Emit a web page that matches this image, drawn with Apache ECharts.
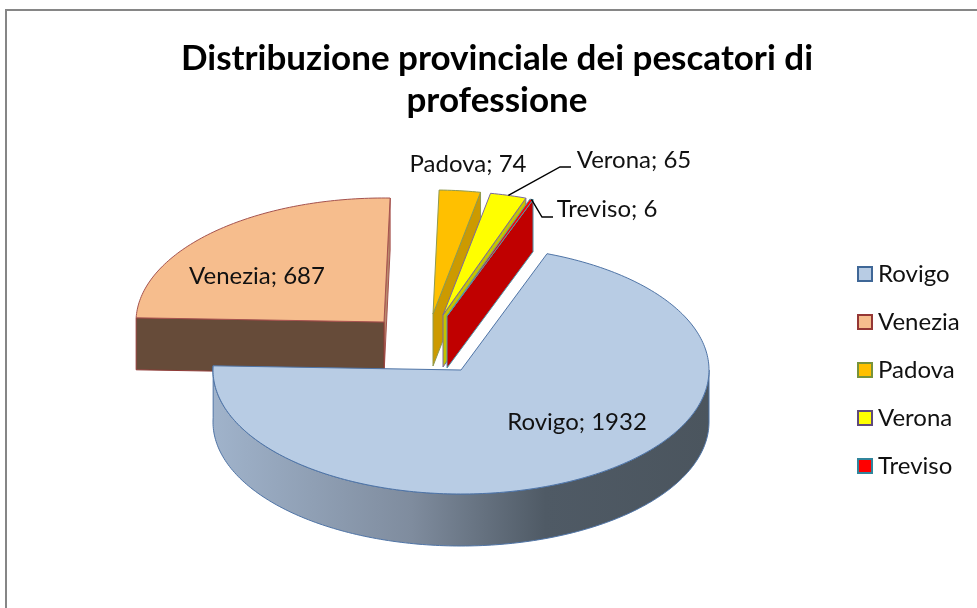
<!DOCTYPE html>
<html><head><meta charset="utf-8">
<style>html,body{margin:0;padding:0;background:#fff}#c{width:977px;height:608px}</style>
<script src="https://cdn.jsdelivr.net/npm/echarts@6/dist/echarts.min.js"></script>
</head><body><div id="c"></div>
<script>
const titleLines = ['Distribuzione provinciale dei pescatori di', 'professione'];
const categories = ['Rovigo', 'Venezia', 'Padova', 'Verona', 'Treviso'];
const values = [1932, 687, 74, 65, 6];

const FONT = 'Lato';
const START_DEG = 20.3, RX = 248, RY = 124, DEPTH = 52;
const centres = {Rovigo:[461,370], Venezia:[384,322], Padova:[433,314], Verona:[443,315], Treviso:[447,316]};
const topFill = {Rovigo:'#b8cce4', Venezia:'#f6bd8d', Padova:'#ffc000', Verona:'#ffff00', Treviso:'#ff0000'};
const wallFill = {Rovigo:'#4f5a64', Venezia:'#664b39', Padova:'#cc9a00', Verona:'#c4c400', Treviso:'#c00000'};
const edge = {Rovigo:'#4f74a6', Venezia:'#a5534f', Padova:'#8f9a50', Verona:'#7a6a9c', Treviso:'#4f9ab0'};
const legendEdge = {Rovigo:'#3f6797', Venezia:'#953735', Padova:'#77933c', Verona:'#604a7b', Treviso:'#31859c'};
const labelPos = {Rovigo:[577,422], Venezia:[257,276], Padova:[468,164], Verona:[634,160], Treviso:[607,209]};
const leaders = {
  Verona:{bend:[[560,167],[571,167]]},
  Treviso:{bend:[[542,217],[553,217]]}
};

const total = values.reduce((a,b)=>a+b,0);
function angles(i){
  let a = START_DEG;
  for(let k=0;k<i;k++) a += values[k]/total*360;
  return [a, a+values[i]/total*360];
}
function pt(c,deg,dy){
  const r = deg*Math.PI/180;
  return [c[0]+RX*Math.sin(r), c[1]-RY*Math.cos(r)+(dy||0)];
}
function arc(c,a0,a1,dy){
  const n = Math.max(2,Math.ceil(Math.abs(a1-a0)));
  const out=[];
  for(let j=0;j<=n;j++) out.push(pt(c,a0+(a1-a0)*j/n,dy));
  return out;
}
function slicePainter(i){
  const name = categories[i];
  return function(params, api){
    const c = centres[name];
    const [a0,a1] = angles(i);
    const kids = [];
    const line = {stroke:edge[name], lineWidth:1};
    const poly = (pts,fill,s)=>kids.push({type:'polygon',shape:{points:pts},style:Object.assign({fill:fill},s||line)});
    const wallStart = [c, pt(c,a0,0), pt(c,a0,DEPTH), [c[0],c[1]+DEPTH]];
    const wallEnd = [c, pt(c,a1,0), pt(c,a1,DEPTH), [c[0],c[1]+DEPTH]];
    if(name==='Rovigo'){
      const rim = arc(c,90,a1,0).concat(arc(c,90,a1,DEPTH).reverse());
      poly(rim, new echarts.graphic.LinearGradient(0,0,1,0,[
        {offset:0,color:'#a0b3cb'},{offset:0.4,color:'#7f8c9e'},{offset:0.67,color:'#4f5a65'},
        {offset:1,color:'#4b555e'}]), {stroke:'#4f74a6',lineWidth:1});
      poly([c].concat(arc(c,a0,a1,0)), topFill[name], {stroke:'#4f74a6',lineWidth:1});
    } else if(name==='Venezia'){
      poly(wallEnd, '#b98a6c', {stroke:'#a5534f',lineWidth:1});
      poly(wallStart, wallFill[name], {stroke:'#8f3a36',lineWidth:1});
      poly([c].concat(arc(c,a0,a1,0)), topFill[name], line);
    } else {
      poly(wallEnd, wallFill[name], line);
      poly([c].concat(arc(c,a0,a1,0)), topFill[name], line);
    }
    if(leaders[name]){
      const from = pt(c,(a0+a1)/2,0);
      kids.push({type:'polyline',shape:{points:[from].concat(leaders[name].bend)},
        style:{stroke:'#000',lineWidth:1.4,fill:'none'}});
    }
    return {type:'group',children:kids};
  };
}
function labelPainter(params, api){
  const kids = categories.map((name,i)=>({type:'text',x:labelPos[name][0],y:labelPos[name][1],
    style:{text:name+'; '+values[i],font:'24px '+FONT,fill:'#111',align:'center',verticalAlign:'middle'}}));
  return {type:'group',children:kids};
}

const zOrder = {Venezia:2, Padova:3, Verona:4, Treviso:5, Rovigo:6};
const series = categories.map((name,i)=>({
  type:'custom', name:name, coordinateSystem:'none', z:zOrder[name], silent:true, animation:false,
  itemStyle:{color:topFill[name]},
  renderItem:slicePainter(i), data:[[values[i]]]
}));
series.push({type:'custom',name:'labels',coordinateSystem:'none',z:10,silent:true,animation:false,
  renderItem:labelPainter,data:[[0]]});

const chart = echarts.init(document.getElementById('c'),null,{renderer:'canvas'});
chart.setOption({
  animation:false,
  backgroundColor:'#fff',
  title:{text:titleLines.join('\n'),left:492,top:33,textAlign:'center',
    textStyle:{fontFamily:FONT,fontWeight:'bold',fontSize:35,lineHeight:42,color:'#000'}},
  legend:{orient:'vertical',left:857,top:262,padding:0,itemWidth:14,itemHeight:14,itemGap:24,
    selectedMode:false,
    textStyle:{fontFamily:FONT,fontSize:24,lineHeight:24,color:'#111',padding:[0,0,0,1]},
    data:categories.map(n=>({name:n,icon:'rect',
      itemStyle:{color:topFill[n],borderColor:legendEdge[n],borderWidth:2}}))},
  graphic:[{type:'polyline',shape:{points:[[6,608],[6,10],[977,10]]},
    style:{stroke:'#868686',lineWidth:2,fill:'none'},silent:true}],
  series:series
});
</script></body></html>
